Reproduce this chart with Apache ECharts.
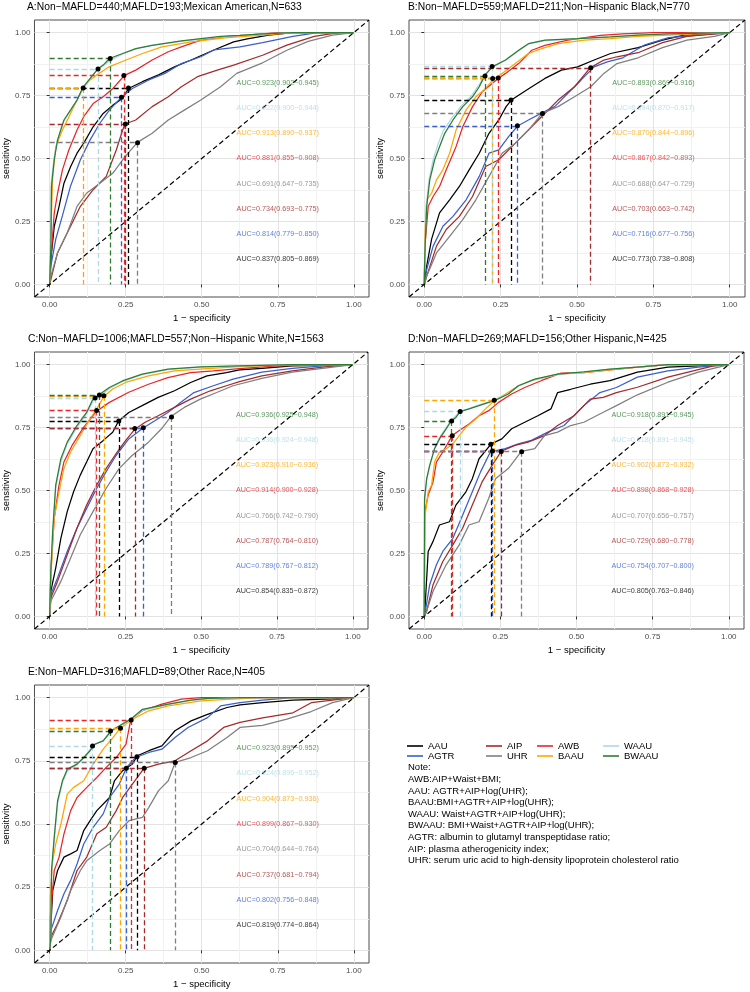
<!DOCTYPE html>
<html><head><meta charset="utf-8">
<script src="https://cdn.jsdelivr.net/npm/echarts@6/dist/echarts.min.js"></script>
<style>html,body{margin:0;padding:0;background:#fff}#c{width:750px;height:992px}</style>
</head><body><div id="c"></div>
<script>
// ---------- data ----------
const models = ['AAU','AGTR','AIP','UHR','AWB','BAAU','WAAU','BWAAU']; // drawing / legend order
const labelOrder = ['BWAAU','WAAU','BAAU','AWB','UHR','AIP','AGTR','AAU'];
const ticks = [0, 0.25, 0.5, 0.75, 1];
const minorTicks = [0.125, 0.375, 0.625, 0.875];
const AXIS_MIN = -0.05, AXIS_MAX = 1.05;

const titles = [
  'A:Non\u2212MAFLD=440;MAFLD=193;Mexican American,N=633',
  'B:Non\u2212MAFLD=559;MAFLD=211;Non\u2212Hispanic Black,N=770',
  'C:Non\u2212MAFLD=1006;MAFLD=557;Non\u2212Hispanic White,N=1563',
  'D:Non\u2212MAFLD=269;MAFLD=156;Other Hispanic,N=425',
  'E:Non\u2212MAFLD=316;MAFLD=89;Other Race,N=405'
];

// Panel A
const A_AAU = [[0,0],[0.004,0.1],[0.015,0.23],[0.031,0.31],[0.047,0.402],[0.069,0.468],[0.09,0.521],[0.112,0.561],[0.143,0.626],[0.176,0.679],[0.208,0.712],[0.24,0.739],[0.259,0.778],[0.305,0.805],[0.358,0.832],[0.412,0.865],[0.465,0.891],[0.54,0.931],[0.605,0.963],[0.65,0.975],[0.72,0.99],[0.8,1],[1,1]];
const A_AGTR = [[0,0],[0.004,0.074],[0.02,0.18],[0.042,0.273],[0.069,0.392],[0.101,0.495],[0.133,0.574],[0.165,0.64],[0.197,0.693],[0.237,0.745],[0.272,0.778],[0.326,0.812],[0.379,0.838],[0.433,0.877],[0.497,0.904],[0.54,0.931],[0.626,0.943],[0.7,0.96],[0.8,0.985],[0.88,1],[1,1]];
const A_AIP = [[0,0],[0.004,0.02],[0.026,0.126],[0.058,0.205],[0.101,0.31],[0.143,0.376],[0.186,0.429],[0.219,0.534],[0.24,0.613],[0.248,0.637],[0.283,0.653],[0.337,0.706],[0.39,0.745],[0.433,0.785],[0.486,0.825],[0.551,0.851],[0.605,0.871],[0.7,0.91],[0.78,0.95],[0.87,0.985],[0.95,1],[1,1]];
const A_UHR = [[0,0],[0.004,0.033],[0.026,0.126],[0.058,0.205],[0.09,0.31],[0.122,0.363],[0.165,0.402],[0.208,0.442],[0.24,0.495],[0.267,0.534],[0.29,0.565],[0.337,0.6],[0.39,0.653],[0.444,0.693],[0.497,0.732],[0.562,0.785],[0.615,0.838],[0.7,0.88],[0.78,0.93],[0.85,0.965],[0.93,0.99],[1,1]];
const A_AWB = [[0,0],[0.004,0.1],[0.015,0.283],[0.026,0.362],[0.042,0.455],[0.063,0.534],[0.09,0.613],[0.112,0.666],[0.143,0.718],[0.176,0.745],[0.208,0.778],[0.246,0.83],[0.283,0.851],[0.337,0.891],[0.39,0.924],[0.433,0.943],[0.497,0.97],[0.583,0.985],[0.65,0.99],[0.75,1],[1,1]];
const A_BAAU = [[0,0],[0.004,0.205],[0.01,0.428],[0.02,0.547],[0.042,0.613],[0.069,0.68],[0.09,0.732],[0.109,0.781],[0.133,0.812],[0.155,0.832],[0.197,0.865],[0.251,0.891],[0.305,0.917],[0.369,0.943],[0.465,0.963],[0.583,0.98],[0.7,0.99],[0.8,1],[1,1]];
const A_WAAU = [[0,0],[0.003,0.17],[0.005,0.4],[0.014,0.5],[0.025,0.57],[0.045,0.645],[0.068,0.69],[0.09,0.73],[0.109,0.775],[0.133,0.815],[0.158,0.855],[0.18,0.872],[0.2,0.89],[0.24,0.915],[0.283,0.935],[0.337,0.95],[0.433,0.965],[0.562,0.983],[0.7,0.995],[0.8,1],[1,1]];
const A_BWAAU = [[0,0],[0.004,0.152],[0.006,0.389],[0.015,0.495],[0.026,0.574],[0.047,0.653],[0.069,0.693],[0.09,0.732],[0.109,0.781],[0.133,0.818],[0.158,0.855],[0.176,0.871],[0.197,0.897],[0.24,0.917],[0.283,0.936],[0.337,0.949],[0.433,0.967],[0.562,0.985],[0.626,0.989],[0.7,0.995],[0.8,1],[1,1]];
const A_cut = [[0.199,0.897],[0.159,0.855],[0.11,0.78],[0.244,0.83],[0.289,0.563],[0.249,0.637],[0.236,0.743],[0.259,0.78]];
const A_auc = ['0.923(0.902\u22120.945)','0.922(0.900\u22120.944)','0.913(0.890\u22120.937)','0.881(0.855\u22120.908)','0.691(0.647\u22120.735)','0.734(0.693\u22120.775)','0.814(0.779\u22120.850)','0.837(0.805\u22120.869)'];

// Panel B
const B_AAU = [[0,0],[0.008,0.074],[0.024,0.18],[0.05,0.284],[0.083,0.336],[0.115,0.389],[0.147,0.455],[0.18,0.521],[0.212,0.6],[0.244,0.653],[0.268,0.706],[0.285,0.732],[0.319,0.759],[0.352,0.785],[0.395,0.818],[0.449,0.851],[0.502,0.864],[0.556,0.891],[0.61,0.917],[0.7,0.94],[0.78,0.97],[0.85,0.99],[1,1]];
const B_AGTR = [[0,0],[0.008,0.06],[0.029,0.152],[0.061,0.231],[0.094,0.27],[0.137,0.336],[0.18,0.429],[0.212,0.521],[0.244,0.534],[0.276,0.587],[0.306,0.629],[0.341,0.653],[0.384,0.68],[0.427,0.706],[0.47,0.759],[0.513,0.811],[0.556,0.864],[0.599,0.884],[0.65,0.9],[0.72,0.95],[0.8,0.98],[0.9,0.99],[1,1]];
const B_AIP = [[0,0],[0.008,0.033],[0.04,0.152],[0.072,0.218],[0.115,0.27],[0.158,0.349],[0.201,0.468],[0.244,0.495],[0.287,0.547],[0.33,0.6],[0.384,0.666],[0.438,0.732],[0.492,0.785],[0.543,0.86],[0.588,0.891],[0.631,0.904],[0.7,0.92],[0.78,0.96],[0.86,0.985],[0.95,0.995],[1,1]];
const B_UHR = [[0,0],[0.008,0.033],[0.04,0.125],[0.083,0.191],[0.126,0.257],[0.169,0.336],[0.212,0.429],[0.255,0.521],[0.298,0.561],[0.341,0.613],[0.386,0.679],[0.438,0.706],[0.492,0.745],[0.545,0.785],[0.588,0.838],[0.631,0.877],[0.7,0.9],[0.78,0.94],[0.86,0.97],[0.95,0.985],[1,1]];
const B_AWB = [[0,0],[0.002,0.152],[0.013,0.31],[0.029,0.349],[0.05,0.389],[0.072,0.455],[0.104,0.547],[0.126,0.626],[0.158,0.706],[0.19,0.765],[0.242,0.818],[0.266,0.838],[0.309,0.877],[0.352,0.93],[0.395,0.949],[0.47,0.97],[0.577,0.989],[0.65,0.995],[0.75,1],[1,1]];
const B_BAAU = [[0,0],[0.002,0.19],[0.008,0.336],[0.024,0.362],[0.04,0.415],[0.061,0.455],[0.083,0.521],[0.104,0.613],[0.137,0.693],[0.169,0.745],[0.201,0.778],[0.225,0.813],[0.255,0.838],[0.298,0.877],[0.341,0.917],[0.384,0.936],[0.438,0.956],[0.524,0.97],[0.61,0.976],[0.7,0.985],[0.8,0.99],[1,1]];
const B_WAAU = [[0,0],[0.002,0.14],[0.007,0.32],[0.016,0.42],[0.03,0.5],[0.046,0.56],[0.062,0.61],[0.09,0.66],[0.122,0.71],[0.155,0.75],[0.178,0.79],[0.2,0.835],[0.222,0.865],[0.266,0.89],[0.309,0.928],[0.341,0.955],[0.395,0.968],[0.502,0.976],[0.61,0.983],[0.7,0.99],[0.8,0.995],[1,1]];
const B_BWAAU = [[0,0],[0.002,0.125],[0.008,0.31],[0.018,0.415],[0.034,0.495],[0.05,0.547],[0.067,0.6],[0.094,0.653],[0.126,0.706],[0.158,0.745],[0.18,0.785],[0.199,0.831],[0.223,0.864],[0.266,0.891],[0.309,0.93],[0.341,0.956],[0.395,0.97],[0.502,0.976],[0.61,0.983],[0.7,0.99],[0.8,0.995],[1,1]];
const B_cut = [[0.199,0.828],[0.222,0.865],[0.224,0.818],[0.242,0.82],[0.387,0.679],[0.545,0.86],[0.305,0.63],[0.284,0.732]];
const B_auc = ['0.893(0.869\u22120.916)','0.894(0.870\u22120.917)','0.870(0.844\u22120.896)','0.867(0.842\u22120.893)','0.688(0.647\u22120.729)','0.703(0.663\u22120.742)','0.716(0.677\u22120.756)','0.773(0.738\u22120.808)'];

// Panel C
const C_AAU = [[0,0],[0.004,0.1],[0.02,0.192],[0.037,0.31],[0.058,0.416],[0.079,0.495],[0.101,0.561],[0.122,0.613],[0.143,0.666],[0.176,0.698],[0.208,0.731],[0.227,0.775],[0.261,0.81],[0.305,0.837],[0.358,0.87],[0.412,0.896],[0.465,0.929],[0.519,0.955],[0.583,0.968],[0.626,0.979],[0.7,0.985],[0.8,0.995],[1,1]];
const C_AGTR = [[0,0],[0.004,0.087],[0.026,0.153],[0.058,0.258],[0.09,0.35],[0.122,0.429],[0.155,0.508],[0.186,0.574],[0.219,0.639],[0.261,0.705],[0.307,0.747],[0.347,0.777],[0.39,0.81],[0.433,0.85],[0.476,0.889],[0.54,0.916],[0.605,0.942],[0.7,0.97],[0.8,0.985],[0.9,0.995],[1,1]];
const C_AIP = [[0,0],[0.004,0.074],[0.026,0.139],[0.058,0.245],[0.09,0.35],[0.122,0.442],[0.155,0.521],[0.186,0.587],[0.219,0.646],[0.251,0.699],[0.28,0.742],[0.315,0.771],[0.358,0.797],[0.412,0.83],[0.465,0.863],[0.53,0.896],[0.583,0.916],[0.626,0.932],[0.7,0.955],[0.8,0.975],[0.9,0.99],[1,1]];
const C_UHR = [[0,0],[0.004,0.061],[0.037,0.139],[0.069,0.231],[0.101,0.324],[0.143,0.416],[0.186,0.508],[0.229,0.587],[0.272,0.639],[0.326,0.692],[0.369,0.745],[0.401,0.795],[0.444,0.83],[0.497,0.863],[0.551,0.889],[0.605,0.916],[0.7,0.945],[0.8,0.97],[0.9,0.985],[1,1]];
const C_AWB = [[0,0],[0.004,0.179],[0.015,0.389],[0.031,0.521],[0.047,0.613],[0.074,0.679],[0.112,0.751],[0.155,0.815],[0.197,0.85],[0.261,0.89],[0.326,0.922],[0.39,0.948],[0.465,0.968],[0.54,0.975],[0.626,0.984],[0.75,0.995],[1,1]];
const C_BAAU = [[0,0],[0.004,0.153],[0.015,0.389],[0.031,0.495],[0.047,0.587],[0.069,0.653],[0.101,0.719],[0.133,0.784],[0.155,0.824],[0.179,0.873],[0.208,0.903],[0.251,0.929],[0.326,0.955],[0.412,0.975],[0.519,0.984],[0.626,0.992],[0.8,1],[1,1]];
const C_WAAU = [[0,0],[0.004,0.17],[0.01,0.33],[0.02,0.51],[0.037,0.615],[0.058,0.685],[0.09,0.75],[0.122,0.805],[0.149,0.867],[0.17,0.877],[0.197,0.905],[0.24,0.932],[0.305,0.96],[0.39,0.98],[0.497,0.99],[0.626,0.995],[0.8,1],[1,1]];
const C_BWAAU = [[0,0],[0.004,0.179],[0.01,0.337],[0.02,0.521],[0.037,0.626],[0.058,0.692],[0.09,0.758],[0.122,0.81],[0.143,0.863],[0.163,0.88],[0.197,0.909],[0.24,0.935],[0.305,0.962],[0.39,0.982],[0.497,0.991],[0.626,0.995],[0.8,1],[1,1]];
const C_cut = [[0.164,0.879],[0.15,0.867],[0.179,0.876],[0.155,0.818],[0.402,0.792],[0.281,0.746],[0.309,0.749],[0.228,0.776]];
const C_auc = ['0.936(0.925\u22120.948)','0.936(0.924\u22120.948)','0.923(0.910\u22120.936)','0.914(0.900\u22120.928)','0.766(0.742\u22120.790)','0.787(0.764\u22120.810)','0.789(0.767\u22120.812)','0.854(0.835\u22120.872)'];

// Panel D
const D_AAU = [[0,0],[0.002,0.021],[0.013,0.258],[0.029,0.298],[0.05,0.363],[0.083,0.376],[0.104,0.442],[0.137,0.495],[0.158,0.547],[0.18,0.626],[0.22,0.685],[0.255,0.705],[0.287,0.745],[0.33,0.771],[0.373,0.797],[0.416,0.824],[0.438,0.889],[0.481,0.902],[0.545,0.922],[0.61,0.936],[0.7,0.97],[0.8,0.99],[1,1]];
const D_AGTR = [[0,0],[0.002,0.008],[0.018,0.126],[0.04,0.205],[0.061,0.258],[0.094,0.31],[0.126,0.402],[0.158,0.495],[0.185,0.574],[0.217,0.653],[0.266,0.666],[0.309,0.685],[0.352,0.699],[0.406,0.732],[0.459,0.758],[0.524,0.837],[0.577,0.889],[0.631,0.909],[0.7,0.95],[0.8,0.975],[0.9,0.99],[1,1]];
const D_AIP = [[0,0],[0.008,0.021],[0.029,0.126],[0.061,0.218],[0.094,0.284],[0.126,0.35],[0.158,0.442],[0.19,0.534],[0.223,0.6],[0.253,0.656],[0.298,0.679],[0.341,0.692],[0.395,0.718],[0.438,0.758],[0.492,0.797],[0.545,0.863],[0.588,0.87],[0.631,0.889],[0.7,0.91],[0.8,0.95],[0.9,0.98],[0.95,0.995],[1,1]];
const D_UHR = [[0,0],[0.008,0.021],[0.029,0.1],[0.072,0.205],[0.115,0.284],[0.147,0.363],[0.18,0.376],[0.212,0.469],[0.234,0.547],[0.276,0.587],[0.319,0.655],[0.363,0.666],[0.395,0.718],[0.438,0.732],[0.481,0.758],[0.524,0.771],[0.588,0.811],[0.631,0.837],[0.7,0.88],[0.8,0.93],[0.9,0.97],[1,1]];
const D_AWB = [[0,0],[0.001,0.2],[0.002,0.416],[0.013,0.482],[0.029,0.534],[0.04,0.613],[0.061,0.653],[0.092,0.718],[0.115,0.738],[0.147,0.764],[0.18,0.797],[0.212,0.817],[0.244,0.85],[0.287,0.883],[0.33,0.909],[0.384,0.936],[0.449,0.966],[0.524,0.968],[0.61,0.979],[0.7,0.99],[0.8,1],[1,1]];
const D_BAAU = [[0,0],[0.001,0.126],[0.002,0.39],[0.013,0.495],[0.024,0.521],[0.034,0.613],[0.05,0.653],[0.072,0.666],[0.094,0.685],[0.115,0.718],[0.137,0.751],[0.169,0.784],[0.201,0.824],[0.231,0.857],[0.276,0.89],[0.309,0.916],[0.352,0.936],[0.438,0.962],[0.524,0.968],[0.61,0.979],[0.7,0.99],[0.8,1],[1,1]];
const D_WAAU = [[0,0],[0.001,0.45],[0.008,0.54],[0.018,0.6],[0.034,0.668],[0.05,0.71],[0.072,0.75],[0.09,0.78],[0.118,0.814],[0.15,0.826],[0.18,0.84],[0.212,0.852],[0.231,0.86],[0.276,0.885],[0.309,0.915],[0.363,0.94],[0.438,0.96],[0.524,0.97],[0.61,0.982],[0.7,0.99],[0.8,1],[1,1]];
const D_BWAAU = [[0,0],[0.001,0.468],[0.008,0.547],[0.018,0.6],[0.034,0.666],[0.05,0.705],[0.072,0.745],[0.088,0.775],[0.104,0.79],[0.118,0.813],[0.147,0.824],[0.18,0.837],[0.212,0.85],[0.231,0.857],[0.276,0.883],[0.309,0.916],[0.363,0.942],[0.438,0.962],[0.524,0.971],[0.61,0.982],[0.7,0.99],[0.8,1],[1,1]];
const D_cut = [[0.09,0.776],[0.118,0.814],[0.23,0.858],[0.092,0.717],[0.32,0.654],[0.253,0.655],[0.224,0.657],[0.219,0.684]];
const D_auc = ['0.918(0.891\u22120.945)','0.918(0.891\u22120.945)','0.902(0.873\u22120.932)','0.898(0.868\u22120.928)','0.707(0.656\u22120.757)','0.729(0.680\u22120.778)','0.754(0.707\u22120.800)','0.805(0.763\u22120.846)'];

// Panel E
const E_AAU = [[0,0],[0.002,0.053],[0.01,0.237],[0.026,0.316],[0.047,0.369],[0.069,0.382],[0.09,0.395],[0.112,0.474],[0.133,0.513],[0.155,0.553],[0.197,0.605],[0.213,0.671],[0.24,0.711],[0.272,0.737],[0.288,0.77],[0.326,0.79],[0.369,0.809],[0.412,0.869],[0.465,0.908],[0.519,0.934],[0.583,0.961],[0.626,0.971],[0.7,0.98],[0.8,0.99],[0.93,0.995],[1,1]];
const E_AGTR = [[0,0],[0.004,0.079],[0.026,0.158],[0.047,0.224],[0.069,0.277],[0.09,0.342],[0.112,0.421],[0.143,0.487],[0.176,0.54],[0.197,0.605],[0.229,0.658],[0.253,0.724],[0.283,0.763],[0.326,0.783],[0.369,0.796],[0.412,0.842],[0.455,0.882],[0.519,0.921],[0.562,0.967],[0.626,0.98],[0.7,0.99],[0.8,1],[1,1]];
const E_AIP = [[0,0],[0.004,0.053],[0.026,0.106],[0.058,0.198],[0.09,0.316],[0.122,0.369],[0.155,0.461],[0.186,0.487],[0.219,0.553],[0.24,0.605],[0.272,0.658],[0.31,0.72],[0.358,0.737],[0.412,0.75],[0.465,0.79],[0.519,0.829],[0.572,0.882],[0.626,0.902],[0.7,0.92],[0.8,0.94],[0.86,0.98],[0.93,0.99],[1,1]];
const E_UHR = [[0,0],[0.004,0.04],[0.037,0.132],[0.069,0.237],[0.101,0.316],[0.122,0.355],[0.165,0.395],[0.197,0.421],[0.229,0.474],[0.261,0.513],[0.305,0.526],[0.326,0.566],[0.358,0.632],[0.39,0.671],[0.413,0.744],[0.465,0.763],[0.519,0.79],[0.583,0.842],[0.626,0.882],[0.7,0.89],[0.78,0.915],[0.86,0.945],[0.93,0.98],[1,1]];
const E_AWB = [[0,0],[0.002,0.132],[0.015,0.316],[0.031,0.369],[0.047,0.461],[0.069,0.553],[0.09,0.605],[0.122,0.645],[0.155,0.684],[0.186,0.724],[0.219,0.763],[0.251,0.816],[0.267,0.915],[0.305,0.948],[0.369,0.974],[0.433,0.994],[0.497,1],[1,1]];
const E_BAAU = [[0,0],[0.002,0.21],[0.01,0.355],[0.02,0.421],[0.037,0.5],[0.058,0.619],[0.079,0.645],[0.112,0.671],[0.143,0.737],[0.176,0.796],[0.208,0.842],[0.232,0.878],[0.272,0.915],[0.326,0.948],[0.39,0.967],[0.497,0.987],[0.583,0.993],[0.7,1],[1,1]];
const E_WAAU = [[0,0],[0.004,0.06],[0.006,0.3],[0.015,0.44],[0.026,0.58],[0.042,0.665],[0.058,0.71],[0.09,0.735],[0.112,0.76],[0.141,0.81],[0.176,0.83],[0.202,0.865],[0.229,0.885],[0.267,0.912],[0.305,0.95],[0.39,0.972],[0.465,0.99],[0.6,1],[1,1]];
const E_BWAAU = [[0,0],[0.004,0.053],[0.006,0.316],[0.015,0.448],[0.026,0.592],[0.042,0.671],[0.058,0.717],[0.09,0.737],[0.112,0.763],[0.133,0.79],[0.149,0.816],[0.176,0.829],[0.202,0.869],[0.229,0.889],[0.267,0.915],[0.305,0.954],[0.39,0.974],[0.465,0.99],[0.519,0.997],[0.626,1],[1,1]];
const E_cut = [[0.2,0.868],[0.141,0.809],[0.233,0.879],[0.268,0.912],[0.413,0.743],[0.311,0.721],[0.252,0.721],[0.287,0.766]];
const E_auc = ['0.923(0.895\u22120.952)','0.924(0.896\u22120.952)','0.904(0.873\u22120.936)','0.899(0.867\u22120.930)','0.704(0.644\u22120.764)','0.737(0.681\u22120.794)','0.802(0.756\u22120.848)','0.819(0.774\u22120.864)'];

const notes = [
  'Note:',
  'AWB:AIP+Waist+BMI;',
  'AAU: AGTR+AIP+log(UHR);',
  'BAAU:BMI+AGTR+AIP+log(UHR);',
  'WAAU: Waist+AGTR+AIP+log(UHR);',
  'BWAAU: BMI+Waist+AGTR+AIP+log(UHR);',
  'AGTR: albumin to glutamyl transpeptidase ratio;',
  'AIP: plasma atherogenicity index;',
  'UHR: serum uric acid to high-density lipoprotein cholesterol ratio'
];

// ---------- styling / layout ----------
const colors = {AAU:'#000000', AGTR:'#3a5fcd', AIP:'#a52a2a', UHR:'#7f7f7f', AWB:'#e8262a', BAAU:'#ffa500', WAAU:'#add8e6', BWAAU:'#2e7d32'};
const FONT = 'Liberation Sans, Arial, Helvetica, sans-serif';
const grids = [
  {left:28, top:20, width:341, height:277},
  {left:409, top:20, width:336, height:277},
  {left:29, top:352, width:339, height:277},
  {left:409, top:352, width:335, height:277},
  {left:29, top:685, width:340, height:278}
];
const panels = [
  {curves:{AAU:A_AAU,AGTR:A_AGTR,AIP:A_AIP,UHR:A_UHR,AWB:A_AWB,BAAU:A_BAAU,WAAU:A_WAAU,BWAAU:A_BWAAU}, cut:A_cut, auc:A_auc},
  {curves:{AAU:B_AAU,AGTR:B_AGTR,AIP:B_AIP,UHR:B_UHR,AWB:B_AWB,BAAU:B_BAAU,WAAU:B_WAAU,BWAAU:B_BWAAU}, cut:B_cut, auc:B_auc},
  {curves:{AAU:C_AAU,AGTR:C_AGTR,AIP:C_AIP,UHR:C_UHR,AWB:C_AWB,BAAU:C_BAAU,WAAU:C_WAAU,BWAAU:C_BWAAU}, cut:C_cut, auc:C_auc},
  {curves:{AAU:D_AAU,AGTR:D_AGTR,AIP:D_AIP,UHR:D_UHR,AWB:D_AWB,BAAU:D_BAAU,WAAU:D_WAAU,BWAAU:D_BWAAU}, cut:D_cut, auc:D_auc},
  {curves:{AAU:E_AAU,AGTR:E_AGTR,AIP:E_AIP,UHR:E_UHR,AWB:E_AWB,BAAU:E_BAAU,WAAU:E_WAAU,BWAAU:E_BWAAU}, cut:E_cut, auc:E_auc}
];

const option = {
  animation:false,
  backgroundColor:'#ffffff',
  textStyle:{fontFamily:FONT},
  grid:[], xAxis:[], yAxis:[], series:[], title:[], legend:[]
};

panels.forEach((p, i) => {
  const g = grids[i];
  option.grid.push(Object.assign({show:true, borderColor:'#4d4d4d', borderWidth:1, backgroundColor:'transparent', containLabel:false}, g));
  option.title.push({text:titles[i], left:g.left - 1, top:g.top - 18, padding:0,
    textStyle:{fontSize:10.3, fontWeight:'normal', color:'#000', fontFamily:FONT}});
  // main axes
  option.xAxis.push({gridIndex:i, type:'value', min:AXIS_MIN, max:AXIS_MAX,
    axisLine:{show:false},
    axisTick:{show:true, customValues:ticks, length:3, lineStyle:{color:'#333'}},
    axisLabel:{customValues:ticks, formatter:v=>v.toFixed(2), fontSize:8, color:'#4d4d4d', margin:4, fontFamily:FONT},
    splitLine:{show:true, lineStyle:{color:'#e3e3e3', width:1}},
    name:'1 \u2212 specificity', nameLocation:'middle', nameGap:16,
    nameTextStyle:{fontSize:9.5, color:'#000', fontFamily:FONT}});
  option.yAxis.push({gridIndex:i, type:'value', min:AXIS_MIN, max:AXIS_MAX,
    axisLine:{show:false},
    axisTick:{show:true, customValues:ticks, length:3, lineStyle:{color:'#333'}},
    axisLabel:{customValues:ticks, formatter:v=>v.toFixed(2), fontSize:8, color:'#4d4d4d', margin:4, fontFamily:FONT},
    splitLine:{show:true, lineStyle:{color:'#e3e3e3', width:1}},
    name:'sensitivity', nameLocation:'middle', nameGap:19,
    nameTextStyle:{fontSize:9.5, color:'#000', fontFamily:FONT}});
  // minor grid axes
  option.xAxis.push({gridIndex:i, type:'value', min:AXIS_MIN, max:AXIS_MAX, position:'bottom',
    axisLine:{show:false}, axisTick:{show:false, customValues:minorTicks}, axisLabel:{show:false},
    splitLine:{show:true, lineStyle:{color:'#f1f1f1', width:1}}});
  option.yAxis.push({gridIndex:i, type:'value', min:AXIS_MIN, max:AXIS_MAX, position:'left',
    axisLine:{show:false}, axisTick:{show:false, customValues:minorTicks}, axisLabel:{show:false},
    splitLine:{show:true, lineStyle:{color:'#f1f1f1', width:1}}});

  const xi = 2*i, yi = 2*i;
  models.forEach(m => {
    const k = labelOrder.indexOf(m);
    const c = p.cut[k];
    option.series.push({
      name:m, type:'line', xAxisIndex:xi, yAxisIndex:yi, data:p.curves[m],
      symbol:'none', showSymbol:false, silent:true,
      lineStyle:{color:colors[m], width:1.25}, itemStyle:{color:colors[m]},
      markLine:{silent:true, symbol:['none','none'], label:{show:false}, animation:false,
        lineStyle:{color:colors[m], type:[5,3], width:1.3},
        data:[[{coord:[0, c[1]]},{coord:[c[0], c[1]]}], [{coord:[c[0], c[1]]},{coord:[c[0], 0]}]]},
      markPoint:{silent:true, symbol:'circle', symbolSize:5, animation:false,
        itemStyle:{color:'#000'}, label:{show:false}, data:[{coord:[c[0], c[1]]}]}
    });
  });
  // diagonal reference line across the whole panel
  option.series.push({name:'ref'+i, type:'line', xAxisIndex:xi, yAxisIndex:yi, silent:true,
    data:[[AXIS_MIN,AXIS_MIN],[AXIS_MAX,AXIS_MAX]], symbol:'none',
    lineStyle:{color:'#000', type:[5,3], width:1.2}, z:3});
  // AUC annotations
  option.series.push({name:'auc'+i, type:'scatter', xAxisIndex:xi, yAxisIndex:yi, silent:true,
    symbolSize:0, z:4,
    data:labelOrder.map((m,k)=>({name:'AUC=' + p.auc[k], value:[0.75, 0.8 - 0.1*k],
      label:{color:colors[m]}})),
    label:{show:true, position:'inside', formatter:'{b}', fontSize:7.2, fontFamily:FONT}});
});

// legend: 4 columns x 2 rows
const legendCols = [['AAU','AGTR'],['AIP','UHR'],['AWB','BAAU'],['WAAU','BWAAU']];
const legendLeft = [407, 486, 537, 603];
legendCols.forEach((col, j) => {
  option.legend.push({data:col.map(n=>({name:n, icon:'rect'})), orient:'vertical', left:legendLeft[j], top:741, padding:0,
    itemGap:0, itemWidth:16, itemHeight:1.6, selectedMode:false,
    textStyle:{fontSize:9.5, lineHeight:8.3, color:'#000', fontFamily:FONT}});
});

// note text
option.title.push({text:notes.join('\n'), left:408, top:762, padding:0,
  textStyle:{fontSize:9.5, lineHeight:11.6, fontWeight:'normal', color:'#000', fontFamily:FONT}});

const chart = echarts.init(document.getElementById('c'), null, {renderer:'canvas'});
chart.setOption(option);
</script>
</body></html>
